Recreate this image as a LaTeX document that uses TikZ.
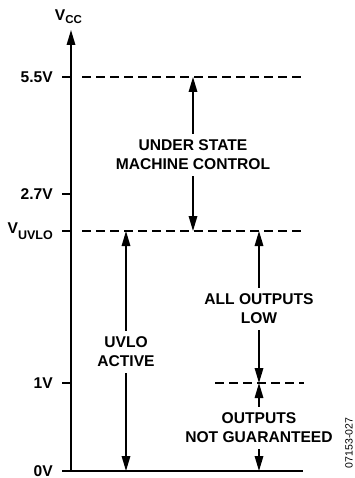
\documentclass[tikz,border=0pt]{standalone}
\usepackage{fontspec}
\setmainfont{Liberation Sans}
\usetikzlibrary{positioning,arrows.meta}

\begin{document}
\begin{tikzpicture}[x=1pt,y=-1pt,
  >={Triangle[length=15pt,width=8.5pt]},
  axis/.style={line width=1.6pt},
  lvl/.style={line width=1.5pt,dash pattern=on 9pt off 5pt},
  dim/.style={->,line width=1.6pt},
  lbl/.style={font=\bfseries\fontsize{15.6}{19}\selectfont,align=center,inner sep=6pt},
  vlab/.style={font=\bfseries\fontsize{15.6}{19}\selectfont,inner sep=0pt}]
  \useasboundingbox (0,0) rectangle (355,478);

  % voltage axis
  \coordinate (top) at (71,30);
  \coordinate (org) at (71,471);
  \coordinate (end) at (303,471);
  \draw[axis,->] (org) -- (top);
  \node[vlab] (vcc) at (68.5,17) {V\raisebox{-2.7pt}{\fontsize{11.5}{11.5}\selectfont CC}};

  % ticks and level names
  \foreach \y/\n in {77/a,194/b,231/c,383/d,471/e}{
    \coordinate (tick\n) at (62,\y);
    \coordinate (ax\n) at (71,\y);
    \draw[axis] (tick\n) -- (ax\n);
  }
  \node[vlab,left=9pt of ticka] (l55) {5.5V};
  \node[vlab,left=9pt of tickb] (l27) {2.7V};
  \node[vlab,left=9pt of tickc] (luv) {V\raisebox{-5.5pt}{\fontsize{12.5}{12.5}\selectfont UVLO}};
  \node[vlab,left=9pt of tickd] (l1)  {1V};
  \node[vlab,left=9pt of ticke] (l0)  {0V};
  \draw[axis] (ticke) -- (end);

  % dashed levels
  \coordinate (d55a) at (82,77);  \coordinate (d55b) at (304,77);
  \coordinate (duva) at (82,231); \coordinate (duvb) at (304,231);
  \coordinate (d1a) at (215,383); \coordinate (d1b) at (304,383);
  \draw[lvl] (d55a) -- (d55b);
  \draw[lvl] (duva) -- (duvb);
  \draw[lvl] (d1a) -- (d1b);

  % state machine band
  \node[lbl] (usm) at (193,155) {UNDER STATE\\MACHINE CONTROL};
  \coordinate (usmt) at (193,77);
  \coordinate (usmb) at (193,231);
  \draw[dim] (usm) -- (usmt);
  \draw[dim] (usm) -- (usmb);

  % uvlo band
  \node[lbl] (uvlo) at (126,352) {UVLO\\ACTIVE};
  \coordinate (uvlot) at (126,231);
  \coordinate (uvlob) at (126,471);
  \draw[dim] (uvlo) -- (uvlot);
  \draw[dim] (uvlo) -- (uvlob);

  % outputs low band
  \node[lbl] (low) at (259,309) {ALL OUTPUTS\\LOW};
  \coordinate (lowt) at (259,231);
  \coordinate (lowb) at (259,383);
  \draw[dim] (low) -- (lowt);
  \draw[dim] (low) -- (lowb);

  % not guaranteed band
  \node[lbl] (ng) at (259,428) {OUTPUTS\\NOT GUARANTEED};
  \coordinate (ngt) at (259,383);
  \coordinate (ngb) at (259,471);
  \draw[dim] (ng) -- (ngt);
  \draw[dim] (ng) -- (ngb);

  \node[font=\fontsize{10.5}{12}\selectfont,rotate=90,inner sep=0pt] (fig) at (349,443) {07153-027};
\end{tikzpicture}
\end{document}
